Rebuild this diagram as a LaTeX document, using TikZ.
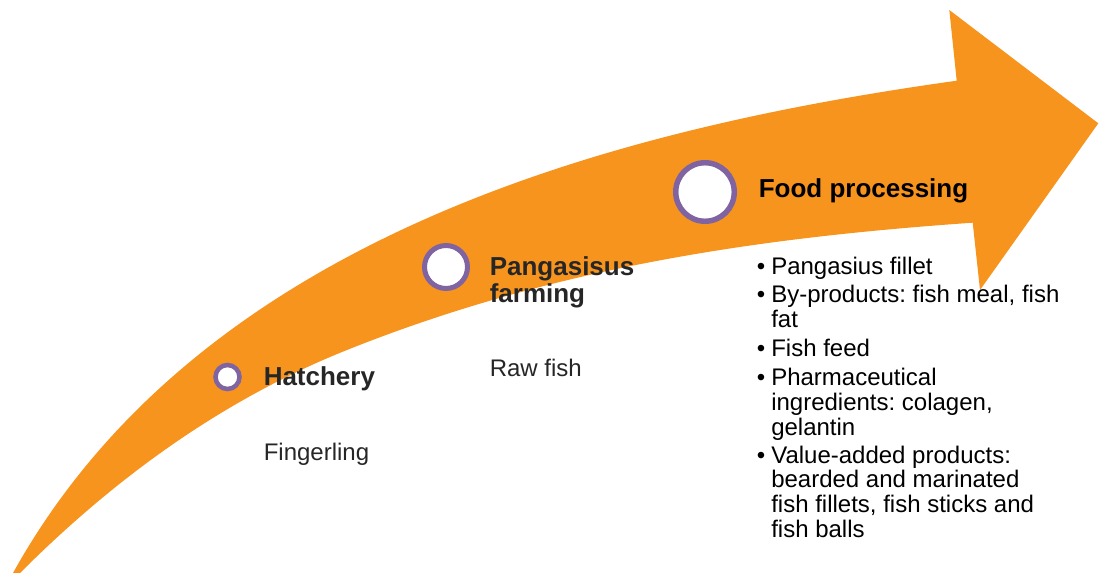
\documentclass[tikz,border=0pt]{standalone}
\usepackage{fontspec}
\setmainfont{Liberation Sans}
\frenchspacing
\definecolor{arroworange}{RGB}{247,148,30}
\definecolor{ringpurple}{RGB}{128,100,162}
\definecolor{darktext}{RGB}{38,38,38}
\newcommand{\stacklines}[1]{\begin{tabular}[t]{@{}l@{}}#1\end{tabular}}
\begin{document}
\begin{tikzpicture}[x=0.75pt,y=-0.75pt,
  ring/.style={circle,draw=ringpurple,fill=white,inner sep=0pt},
  title/.style={anchor=base west,inner sep=0pt,font=\fontsize{19.5}{19.5}\selectfont\bfseries},
  body/.style={anchor=base west,inner sep=0pt,font=\fontsize{18}{18.4}\selectfont},
  bulletmark/.style={anchor=base west,inner sep=0pt,font=\fontsize{18}{18.4}\selectfont}]
\useasboundingbox (0,0) rectangle (1106,573);
% arrow
\fill[arroworange] (13,573) .. controls (203,231) and (626.7,126.9) .. (956.7,80.7)
  -- (949.3,10) -- (1098.3,123.3) -- (980,290) -- (972.7,222.7)
  .. controls (762.7,237.4) and (557,266) .. (347,350)
  .. controls (238,393.6) and (129,464) .. (20,573) -- cycle;
% rings
\node[ring,line width=3.4pt,minimum size=18pt] (c1) at (227.5,377) {};
\node[ring,line width=3.75pt,minimum size=32.25pt] (c2) at (446,267) {};
\node[ring,line width=4.1pt,minimum size=43.9pt] (c3) at (705,192) {};
% titles
\node[title,text=darktext] (t1) at (263.5,386) {Hatchery};
\node[body,text=darktext] (b1) at (263.5,460) {Fingerling};
\node[title,text=darktext] (t2) at (489.5,276) {\stacklines{Pangasisus\\farming}};
\node[body,text=darktext] (b2) at (489.5,377) {Raw fish};
\node[title,text=black] (t3) at (758.5,198) {Food processing};
% bullet list
\node[bulletmark] (m1) at (756.5,275) {•};
\node[body] (i1) at (771,275) {Pangasius fillet};
\node[bulletmark] (m2) at (756.5,303) {•};
\node[body] (i2) at (771,303) {\stacklines{By-products: fish meal, fish\\fat}};
\node[bulletmark] (m3) at (756.5,357) {•};
\node[body] (i3) at (771,357) {Fish feed};
\node[bulletmark] (m4) at (756.5,386) {•};
\node[body] (i4) at (771,386) {\stacklines{Pharmaceutical\\ingredients: colagen,\\gelantin}};
\node[bulletmark] (m5) at (756.5,463) {•};
\node[body] (i5) at (771,463) {\stacklines{Value-added products:\\bearded and marinated\\fish fillets, fish sticks and\\fish balls}};
\end{tikzpicture}
\end{document}
